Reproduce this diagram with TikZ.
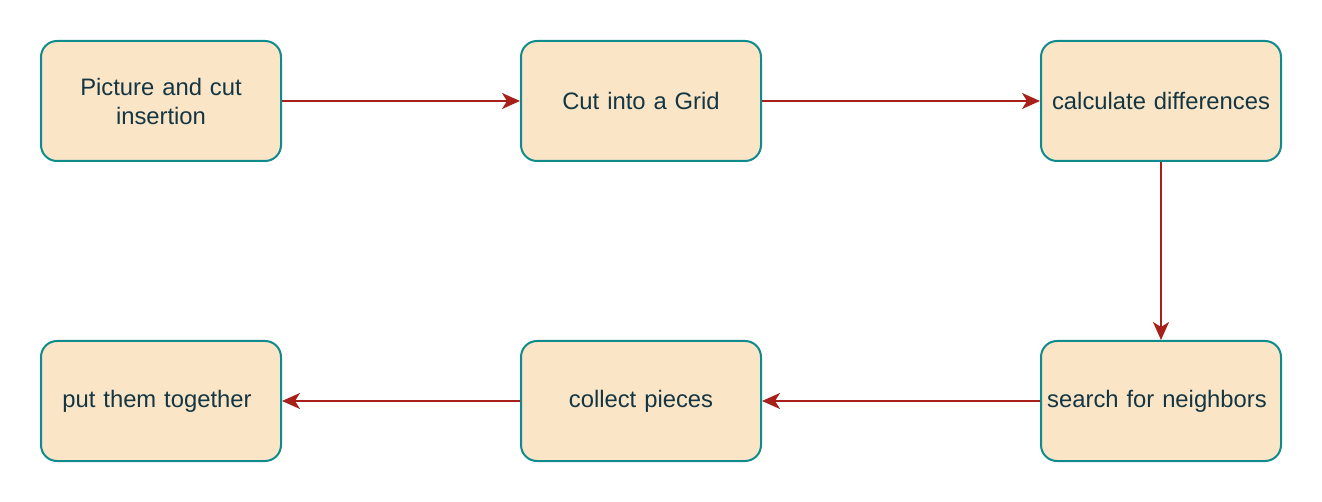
\documentclass[tikz,border=0pt]{standalone}
\usepackage{fontspec}
\setmainfont{Liberation Sans}
\usetikzlibrary{arrows.meta}
\definecolor{boxfill}{HTML}{FAE5C7}
\definecolor{boxline}{HTML}{0F8B8D}
\definecolor{boxtext}{HTML}{143642}
\definecolor{arrowc}{HTML}{A8201A}
\begin{document}
\begin{tikzpicture}[x=1pt,y=-1pt,
  stepbox/.style={draw=boxline, fill=boxfill, line width=2pt, rounded corners=16pt,
    minimum width=240pt, minimum height=120pt, inner sep=0pt, text=boxtext,
    font=\fontsize{23.8}{29}\selectfont, align=center, text width=236pt},
  flow/.style={draw=arrowc, line width=2pt, -{Stealth[length=18pt,width=16pt,inset=5pt]}}]
\useasboundingbox (0,0) rectangle (1322,502);
\node[stepbox] (a) at (161,101) {Picture and cut\\insertion};
\node[stepbox] (b) at (641,101) {Cut into a Grid};
\node[stepbox] (c) at (1161,101) {calculate differences};
\node[stepbox] (d) at (1161,401) {search for neighbors\hspace*{8pt}};
\node[stepbox] (e) at (641,401) {collect pieces};
\node[stepbox] (f) at (161,401) {put them together\hspace*{8pt}};
\draw[flow] (a) -- (b);
\draw[flow] (b) -- (c);
\draw[flow] (c) -- (d);
\draw[flow] (d) -- (e);
\draw[flow] (e) -- (f);
\end{tikzpicture}
\end{document}
